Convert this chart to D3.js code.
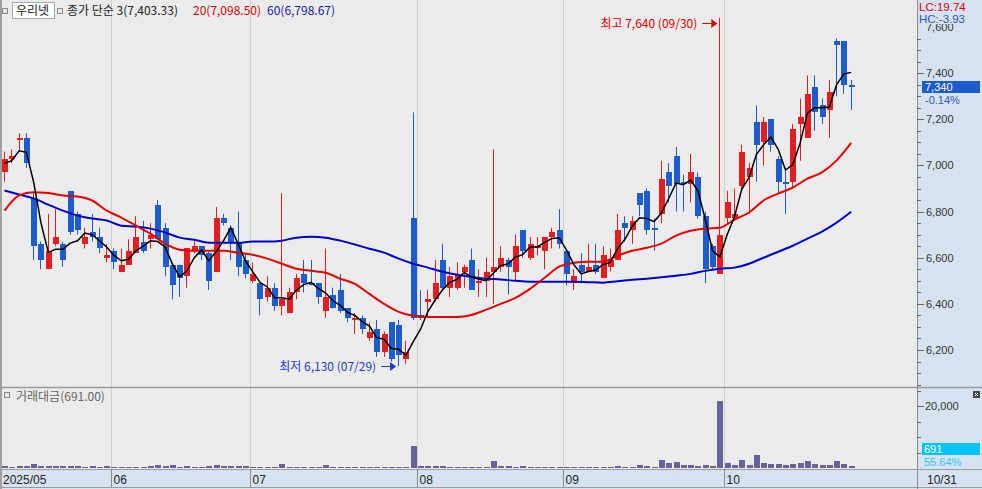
<!DOCTYPE html>
<html>
<head>
<meta charset="utf-8">
<script src="https://cdn.jsdelivr.net/npm/d3@7"></script>
<style>
  body { margin: 0; background: #ebebeb; overflow: hidden; }
  svg { display: block; font-family: "Noto Sans CJK KR", "Noto Sans", sans-serif; }
  .num { font-family: "Liberation Sans", "DejaVu Sans", sans-serif; }
</style>
</head>
<body>
<script>
// ---- data ----
var dates = [
  "05/12","05/13","05/14","05/15","05/16","05/19","05/20","05/21","05/22","05/23","05/26","05/27","05/28","05/29","05/30",
  "06/02","06/04","06/05","06/09","06/10","06/11","06/12","06/13","06/16","06/17","06/18","06/19","06/20","06/23","06/24","06/25","06/26","06/27","06/30",
  "07/01","07/02","07/03","07/04","07/07","07/08","07/09","07/10","07/11","07/14","07/15","07/16","07/17","07/18","07/21","07/22","07/23","07/24","07/25","07/28","07/29","07/30","07/31",
  "08/01","08/04","08/05","08/06","08/07","08/08","08/11","08/12","08/13","08/14","08/18","08/19","08/20","08/21","08/22","08/25","08/26","08/27","08/28","08/29",
  "09/01","09/02","09/03","09/04","09/05","09/08","09/09","09/10","09/11","09/12","09/15","09/16","09/17","09/18","09/19","09/22","09/23","09/24","09/25","09/26","09/29","09/30",
  "10/01","10/02","10/10","10/13","10/14","10/15","10/16","10/17","10/20","10/21","10/22","10/23","10/24","10/27","10/28","10/29","10/30","10/31"
];

var opens = [
  6970,7030,7110,7120,6860,6660,6550,6660,6660,6890,
  6790,6660,6710,6690,6600,6630,6540,6570,6620,6670,
  6680,6830,6730,6570,6570,6520,6630,6650,6620,6540,
  6770,6730,6670,6590,6500,6490,6430,6470,6390,6360,
  6450,6530,6490,6490,6370,6440,6460,6380,6330,6340,
  6250,6290,6190,6320,6310,6160,6770,6350,6410,6420,
  6590,6470,6470,6540,6590,6490,6500,6540,6560,6590,
  6540,6720,6600,6640,6630,6690,6720,6630,6490,6570,
  6540,6570,6510,6560,6590,6750,6720,6880,6890,6730,
  6790,6970,7040,6930,6920,6950,6780,6650,6530,6770,
  6770,6910,6950,7190,7100,7200,7030,6930,6930,7180,
  7120,7340,7260,7240,7540,7540,7350
];
var highs = [
  7060,7070,7140,7140,6880,6670,6790,6810,6670,6890,
  6800,6730,6790,6730,6660,6640,6640,6680,6780,6760,
  6750,6850,6750,6570,6570,6640,6680,6650,6630,6820,
  6790,6740,6800,6620,6580,6490,6520,6490,6880,6470,
  6530,6590,6590,6490,6640,6470,6530,6380,6360,6350,
  6320,6330,6280,6320,6330,6240,7230,6460,6460,6590,
  6660,6560,6580,6570,6640,6550,6600,7070,6650,6600,
  6700,6720,6690,6690,6690,6730,6810,6630,6550,6620,
  6660,6660,6650,6640,6790,6780,6780,6880,6900,6770,
  7020,7010,7080,6960,7050,6970,6800,6660,7640,6890,
  6900,7090,7010,7260,7210,7200,7040,6990,7180,7290,
  7390,7390,7290,7370,7550,7540,7370
];
var lows = [
  6930,7010,7060,6990,6590,6550,6550,6650,6560,6700,
  6700,6640,6670,6620,6580,6550,6540,6570,6620,6620,
  6640,6680,6520,6420,6430,6470,6620,6590,6460,6540,
  6740,6590,6520,6510,6490,6350,6410,6370,6350,6360,
  6420,6450,6480,6400,6340,6380,6360,6320,6270,6270,
  6240,6170,6170,6150,6130,6140,6330,6330,6340,6410,
  6460,6430,6460,6470,6460,6430,6430,6400,6540,6440,
  6500,6600,6590,6610,6550,6640,6640,6480,6460,6490,
  6540,6530,6510,6540,6590,6670,6660,6780,6700,6630,
  6750,6840,6800,6800,6840,6770,6490,6550,6530,6750,
  6760,6900,6790,6930,7000,7060,6880,6790,6900,7020,
  7120,7150,7180,7120,7300,7310,7240
];
var closes = [
  7030,7040,7120,7010,6650,6590,6630,6690,6590,6710,
  6720,6690,6690,6640,6610,6580,6570,6630,6690,6630,
  6700,6680,6560,6480,6510,6640,6650,6610,6500,6770,
  6750,6670,6560,6530,6530,6420,6470,6390,6420,6450,
  6510,6490,6480,6430,6430,6380,6370,6340,6340,6290,
  6280,6190,6270,6160,6180,6190,6340,6340,6420,6490,
  6470,6520,6530,6560,6460,6500,6540,6560,6600,6560,
  6650,6630,6660,6650,6690,6710,6660,6530,6520,6540,
  6560,6540,6610,6590,6720,6730,6760,6830,6720,6720,
  6940,6910,6920,6920,6970,6780,6550,6560,6700,6840,
  6790,7060,6990,7090,7190,7090,6930,6920,7160,7210,
  7310,7230,7210,7320,7520,7350,7340
];
// two closes before the first visible day, for the 3-day average
var priorCloses = [7004, 6993];

// trading value (거래대금)
var volumes = [
  520,480,560,600,1300,620,540,500,560,780,520,480,500,470,520,
  450,430,470,460,480,500,900,500,900,480,500,470,460,520,1100,800,500,800,560,
  480,450,470,460,1300,420,400,420,430,470,1100,470,460,450,460,430,420,450,470,460,480,400,7100,
  800,700,750,720,400,480,420,460,480,460,2300,500,600,480,520,480,460,470,480,470,
  400,380,390,400,380,420,400,700,420,430,900,500,480,2600,1500,1800,900,1100,700,1100,600,21700,
  1600,1100,2600,1100,4200,1600,1400,1400,1100,1400,1500,2200,1400,900,1100,2200,1300,691
];

// 20 and 60 day averages, at every second day (day 1, 3, 5, ...)
var ma20 = [
  6804,6870,6884,6880,6870,6865,6848,6804,6774,6739,
  6704,6661,6635,6630,6630,6630,6622,6613,6596,6574,
  6552,6543,6535,6509,6487,6443,6400,6365,6348,6343,
  6343,6343,6352,6375,6400,6426,6465,6513,6561,6578,
  6583,6583,6609,6630,6643,6661,6696,6717,6726,6730,
  6765,6796,6848,6878,6904,6943,6970,7022,7098
];
var ma60 = [
  6891,6874,6857,6830,6804,6783,6770,6761,6739,6735,
  6726,6709,6687,6678,6665,6665,6665,6670,6670,6674,
  6687,6691,6687,6674,6657,6639,6622,6596,6574,6557,
  6539,6526,6517,6509,6506,6500,6496,6496,6496,6496,
  6494,6492,6498,6504,6509,6515,6522,6530,6543,6552,
  6557,6574,6600,6626,6652,6683,6713,6752,6799
];

var priceLabels = [6200, 6400, 6600, 6800, 7000, 7200, 7400, 7600];
var volLabels = [20000];
var monthLabels = ["2025/05", "06", "07", "08", "09", "10"];
var lastDateLabel = "10/31";

var stockName = "우리넷";
var maLegend = ["종가 단순 3(7,403.33)", "20(7,098.50)", "60(6,798.67)"];
var lcText = "LC:19.74", hcText = "HC:-3.93";
var lastPrice = "7,340", lastChange = "-0.14%";
var volTitle = "거래대금(691.00)";
var lastVol = "691", lastVolChange = "55.64%";

// ---- layout ----
var W = 982, H = 489;
var axisX = 917;
var priceBottom = 387, volTop = 388, volBottom = 469;

var RED = "#e41e1e", BLUE = "#1c5ccc";

var svg = d3.select("body").append("svg")
    .attr("width", W)
    .attr("height", H);

var x = d3.scaleLinear().domain([0, dates.length - 1]).range([5, 851.7]);
var y = d3.scaleLinear().domain([6200, 7600]).range([350, 27]);
var yv = d3.scaleLinear().domain([0, 20000]).range([468, 406]);

// backgrounds
svg.append("rect").attr("width", W).attr("height", H).attr("fill", "#ebebeb");
svg.append("rect").attr("x", axisX).attr("y", 0).attr("width", W - axisX).attr("height", volBottom)
    .attr("fill", "#d6e2f0");
svg.append("rect").attr("x", 0).attr("y", volBottom).attr("width", W).attr("height", H - volBottom)
    .attr("fill", "#d6e2f0");

var defs = svg.append("defs");
defs.append("clipPath").attr("id", "pclip").append("rect")
    .attr("x", 0).attr("y", 0).attr("width", axisX).attr("height", priceBottom);
defs.append("clipPath").attr("id", "vclip").append("rect")
    .attr("x", 0).attr("y", volTop).attr("width", axisX).attr("height", volBottom - volTop);

// month boundaries
var monthStarts = [];
dates.forEach(function(d, i) {
  if (i > 0 && d.slice(0, 2) !== dates[i - 1].slice(0, 2)) monthStarts.push(i);
});
function monthLineX(i) { return Math.round(x(i) - 3.65) + 0.5; }

svg.append("g").selectAll("line").data(monthStarts).enter().append("line")
    .attr("x1", monthLineX).attr("x2", monthLineX)
    .attr("y1", 0).attr("y2", volBottom)
    .attr("stroke", "#cfcfcf").attr("stroke-width", 1);

// ---- price panel ----
var pg = svg.append("g").attr("clip-path", "url(#pclip)");

var idx = d3.range(dates.length);

pg.append("g").selectAll("rect").data(idx).enter().append("rect")
    .attr("x", function(i) { return Math.round(x(i)) - 1; })
    .attr("width", 1)
    .attr("y", function(i) { return y(highs[i]); })
    .attr("height", function(i) { return Math.max(1, y(lows[i]) - y(highs[i])); })
    .attr("fill", function(i) { return closes[i] >= opens[i] ? RED : BLUE; });

pg.append("g").selectAll("rect").data(idx).enter().append("rect")
    .attr("x", function(i) { return Math.round(x(i)) - 3; })
    .attr("width", 6)
    .attr("y", function(i) { return Math.round(y(Math.max(opens[i], closes[i]))); })
    .attr("height", function(i) {
      return Math.max(1, Math.round(y(Math.min(opens[i], closes[i]))) - Math.round(y(Math.max(opens[i], closes[i]))));
    })
    .attr("fill", function(i) { return closes[i] >= opens[i] ? RED : BLUE; });

// moving averages
var sampled = function(arr) {
  return arr.map(function(v, k) { return [k * 2, v]; });
};
var avgLine = d3.line()
    .x(function(d) { return x(d[0]) - 0.5; })
    .y(function(d) { return y(d[1]); })
    .curve(d3.curveMonotoneX);

pg.append("path").datum(sampled(ma60)).attr("d", avgLine)
    .attr("fill", "none").attr("stroke", "#0000cd").attr("stroke-width", 2);
pg.append("path").datum(sampled(ma20)).attr("d", avgLine)
    .attr("fill", "none").attr("stroke", "#e60000").attr("stroke-width", 2);

var allCloses = priorCloses.concat(closes);
var ma3 = closes.map(function(c, i) {
  return [i, d3.mean(allCloses.slice(i, i + 3))];
});
pg.append("path").datum(ma3)
    .attr("d", d3.line().x(function(d) { return x(d[0]) - 0.5; }).y(function(d) { return y(d[1]); }))
    .attr("fill", "none").attr("stroke", "#000").attr("stroke-width", 1.5);

// high / low marks
var hiIdx = d3.maxIndex(highs), loIdx = d3.minIndex(lows);
function fmt(v) { return d3.format(",")(v); }
function marker(i, v, text, color, dy) {
  var tip = x(i) - 3, yy = Math.round(y(v) + dy) + 0.5;
  var g = pg.append("g");
  g.append("line").attr("x1", tip - 15).attr("x2", tip - 4).attr("y1", yy).attr("y2", yy)
      .attr("stroke", color).attr("stroke-width", 1);
  g.append("path").attr("d", "M" + tip + "," + yy + "l-6,-4.5v9z").attr("fill", color);
  g.append("text").attr("x", tip - 20).attr("y", yy + 4).attr("text-anchor", "end")
      .attr("font-size", "12px").attr("fill", color).text(text);
}
marker(hiIdx, highs[hiIdx], "최고 " + fmt(highs[hiIdx]) + " (" + dates[hiIdx] + ")", "#e00000", 5);
marker(loIdx, lows[loIdx], "최저 " + fmt(lows[loIdx]) + " (" + dates[loIdx] + ")", "#1c3ccc", 0);

// legend
function box(g, bx, by) {
  g.append("rect").attr("x", bx + 0.5).attr("y", by + 0.5).attr("width", 5).attr("height", 5)
      .attr("fill", "#e8e8e8").attr("stroke", "#8a8a8a");
}
var lg = svg.append("g");
box(lg, 2, 8);
lg.append("rect").attr("x", 12.5).attr("y", 2.5).attr("width", 42).attr("height", 16)
    .attr("fill", "#fff").attr("stroke", "#a8a8a8");
lg.append("text").attr("x", 16).attr("y", 15).attr("font-size", "12px").attr("fill", "#222").text(stockName);
box(lg, 57, 8);
lg.append("text").attr("x", 67).attr("y", 15).attr("font-size", "12px").attr("fill", "#222").text(maLegend[0]);
lg.append("text").attr("x", 193).attr("y", 15).attr("font-size", "12px").attr("fill", "#e00000").text(maLegend[1]);
lg.append("text").attr("x", 267).attr("y", 15).attr("font-size", "12px").attr("fill", "#1414b4").text(maLegend[2]);

// ---- volume panel ----
var vg = svg.append("g").attr("clip-path", "url(#vclip)");
vg.append("g").selectAll("rect").data(idx).enter().append("rect")
    .attr("x", function(i) { return Math.round(x(i)) - 3; })
    .attr("width", 6)
    .attr("y", function(i) { return Math.round(yv(volumes[i])); })
    .attr("height", function(i) { return Math.max(1, volBottom - 1 - Math.round(yv(volumes[i]))); })
    .attr("fill", "#64649a");

box(svg, 4, 392);
svg.append("text").attr("x", 16).attr("y", 401).attr("font-size", "12px").attr("fill", "#666").text(volTitle);

// ---- frame lines ----
svg.append("line").attr("x1", 0).attr("x2", W).attr("y1", priceBottom + 0.5).attr("y2", priceBottom + 0.5)
    .attr("stroke", "#9a9a9a").attr("stroke-width", 1.5);
svg.append("line").attr("x1", 0).attr("x2", W).attr("y1", volBottom + 0.5).attr("y2", volBottom + 0.5)
    .attr("stroke", "#9a9a9a");
svg.append("line").attr("x1", 0).attr("x2", W).attr("y1", H - 1.5).attr("y2", H - 1.5)
    .attr("stroke", "#9a9a9a");
svg.append("line").attr("x1", axisX + 0.5).attr("x2", axisX + 0.5).attr("y1", 0).attr("y2", H)
    .attr("stroke", "#8c8c8c");
svg.append("rect").attr("x", 0).attr("y", 0).attr("width", 2).attr("height", H).attr("fill", "#a0a0a0");

// ---- price axis ----
var pa = svg.append("g").attr("class", "num");
var minor = d3.range(6050, 7750, 50).filter(function(v) { return y(v) > 28 && y(v) < priceBottom - 2; });
pa.selectAll("line").data(minor).enter().append("line")
    .attr("x1", axisX).attr("x2", function(v) { return axisX + (v % 200 === 0 ? 7 : 4); })
    .attr("y1", function(v) { return Math.round(y(v)) + 0.5; })
    .attr("y2", function(v) { return Math.round(y(v)) + 0.5; })
    .attr("stroke", "#6a6a6a");
pa.selectAll("text").data(priceLabels).enter().append("text")
    .attr("x", 926).attr("y", function(v) { return y(v) + 4; })
    .attr("font-size", "11px").attr("fill", "#333")
    .text(function(v) { return fmt(v); });

// LC / HC sit on their own strip and hide the top of the 7,600 label, as in the source
svg.append("rect").attr("x", axisX + 1).attr("y", 0).attr("width", W - axisX - 1).attr("height", 24)
    .attr("fill", "#d6e2f0");
svg.append("text").attr("class", "num").attr("x", 919).attr("y", 11).attr("font-size", "11.5px")
    .attr("fill", "#e00000").text(lcText);
svg.append("text").attr("class", "num").attr("x", 919).attr("y", 23).attr("font-size", "11.5px")
    .attr("fill", "#2a56c6").text(hcText);

var lastY = Math.round(y(closes[closes.length - 1]));
svg.append("rect").attr("x", 922).attr("y", lastY - 6).attr("width", 58).attr("height", 12)
    .attr("fill", "#1c5ccc");
svg.append("text").attr("class", "num").attr("x", 925).attr("y", lastY + 4).attr("font-size", "11px")
    .attr("fill", "#fff").text(lastPrice);
svg.append("text").attr("class", "num").attr("x", 925).attr("y", lastY + 17).attr("font-size", "11px")
    .attr("fill", "#2a56c6").text(lastChange);

// ---- volume axis ----
var va = svg.append("g").attr("class", "num");
var vminor = d3.range(5000, 30000, 5000).filter(function(v) { return yv(v) > volTop + 2; });
va.selectAll("line").data(vminor).enter().append("line")
    .attr("x1", axisX).attr("x2", function(v) { return axisX + (volLabels.indexOf(v) >= 0 ? 7 : 4); })
    .attr("y1", function(v) { return Math.round(yv(v)) + 0.5; })
    .attr("y2", function(v) { return Math.round(yv(v)) + 0.5; })
    .attr("stroke", "#6a6a6a");
va.selectAll("text").data(volLabels).enter().append("text")
    .attr("x", 925).attr("y", function(v) { return yv(v) + 4; })
    .attr("font-size", "11px").attr("fill", "#333")
    .text(function(v) { return fmt(v); });

svg.append("rect").attr("x", 922).attr("y", 443).attr("width", 58).attr("height", 12).attr("fill", "#00c4f4");
svg.append("text").attr("class", "num").attr("x", 924).attr("y", 453).attr("font-size", "11px")
    .attr("fill", "#fff").text(lastVol);
svg.append("text").attr("class", "num").attr("x", 924).attr("y", 466).attr("font-size", "11px")
    .attr("fill", "#2cc8f4").text(lastVolChange);

svg.append("rect").attr("x", 973).attr("y", 391).attr("width", 7).attr("height", 7).attr("fill", "#444");
svg.append("path").attr("d", "M975,393l3,3m0,-3l-3,3").attr("stroke", "#fff").attr("stroke-width", 1);

// ---- date axis ----
var da = svg.append("g").attr("class", "num");
da.selectAll("line").data(monthStarts).enter().append("line")
    .attr("x1", monthLineX).attr("x2", monthLineX)
    .attr("y1", volBottom).attr("y2", H - 2)
    .attr("stroke", "#8c8c8c");
var labelXs = [3].concat(monthStarts.map(function(i) { return monthLineX(i) + 2; }));
da.selectAll("text").data(monthLabels).enter().append("text")
    .attr("x", function(d, k) { return labelXs[k]; })
    .attr("y", 484).attr("font-size", "12px").attr("fill", "#222")
    .text(function(d) { return d; });
da.append("text").attr("x", 927).attr("y", 484).attr("font-size", "12px").attr("fill", "#222").text(lastDateLabel);
</script>
</body>
</html>
